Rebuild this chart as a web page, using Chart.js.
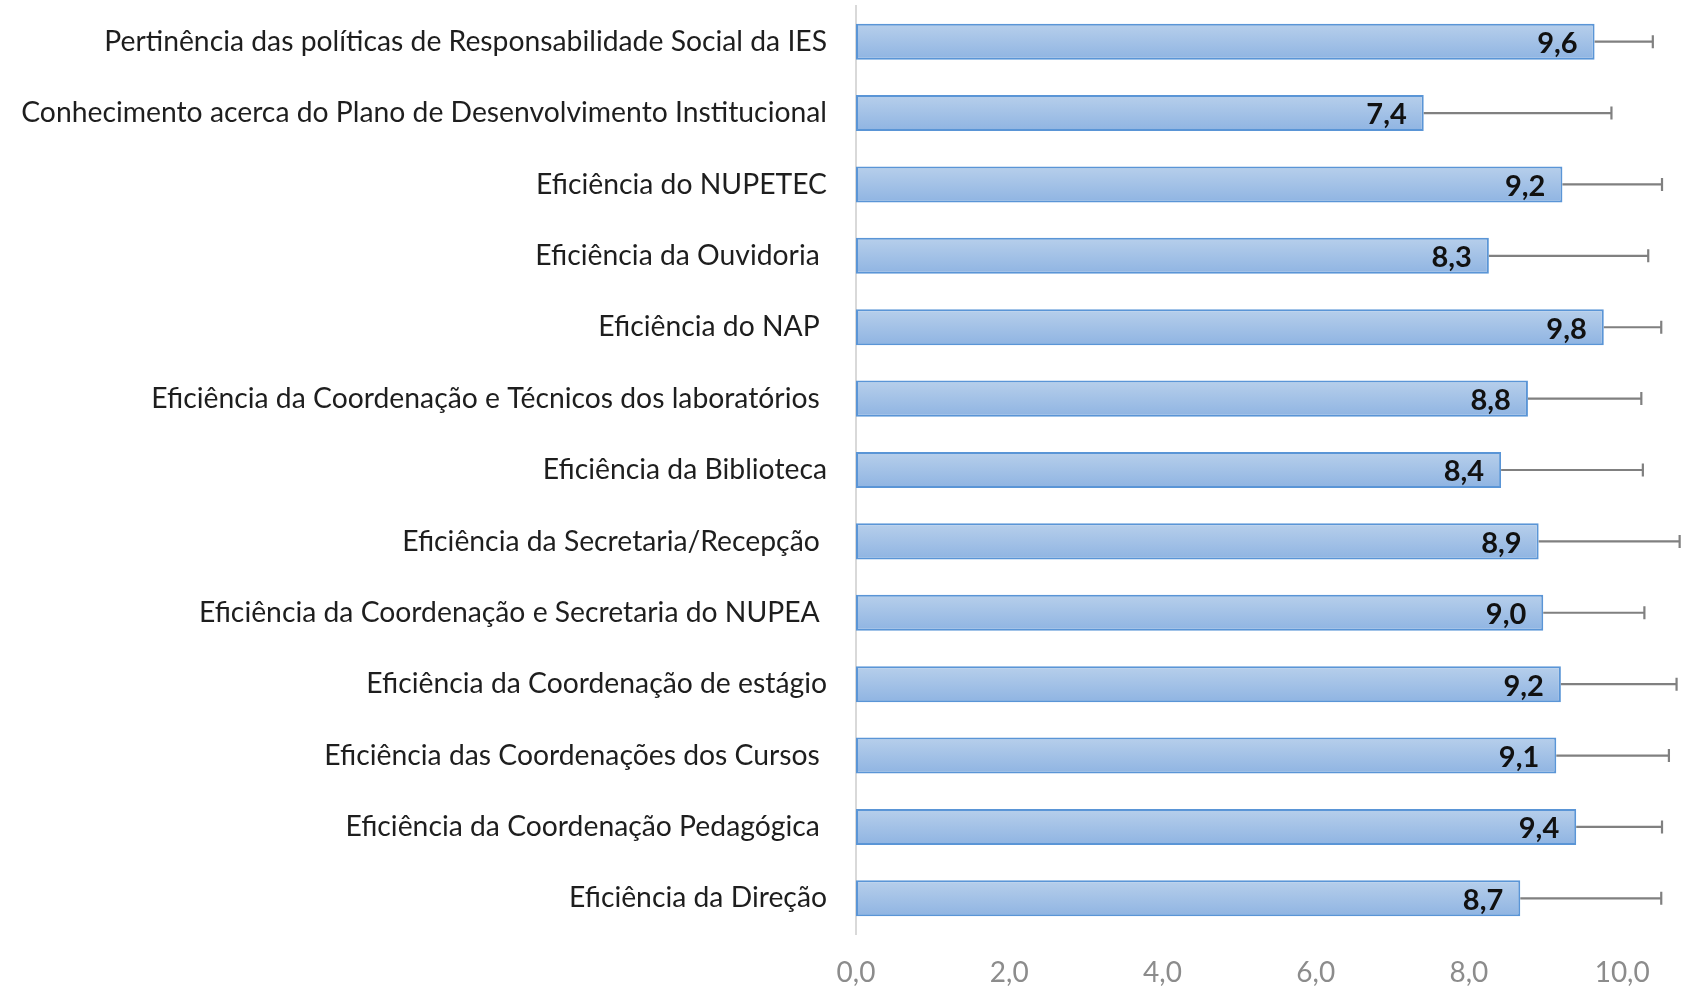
<!DOCTYPE html>
<html>
<head>
<meta charset="utf-8">
<script src="https://cdn.jsdelivr.net/npm/chart.js@4/dist/chart.umd.min.js"></script>
<style>
  html, body { margin: 0; padding: 0; background: #ffffff; }
  #wrap { width: 1685px; height: 987px; position: relative; }
</style>
</head>
<body>
<div id="wrap"><canvas id="c" width="1685" height="987"></canvas></div>
<script>
const categories = [
  "Pertinência das políticas de Responsabilidade Social da IES",
  "Conhecimento acerca do Plano de Desenvolvimento Institucional",
  "Eficiência do NUPETEC",
  "Eficiência da Ouvidoria ",
  "Eficiência do NAP ",
  "Eficiência da Coordenação e Técnicos dos laboratórios ",
  "Eficiência da Biblioteca",
  "Eficiência da Secretaria/Recepção ",
  "Eficiência da Coordenação e Secretaria do NUPEA ",
  "Eficiência da Coordenação de estágio",
  "Eficiência das Coordenações dos Cursos ",
  "Eficiência da Coordenação Pedagógica ",
  "Eficiência da Direção"
];
const means = [9.64, 7.41, 9.22, 8.26, 9.76, 8.77, 8.42, 8.91, 8.97, 9.20, 9.14, 9.40, 8.67];
const errors = [0.76, 2.45, 1.30, 2.08, 0.75, 1.48, 1.85, 1.84, 1.32, 1.51, 1.47, 1.12, 1.84];
const xTicks = [0, 2, 4, 6, 8, 10];

const FONT = "Lato, 'Open Sans', sans-serif";
const fmt = v => v.toFixed(1).replace('.', ',');
const BAR_PCT = 0.505;

function barFill(ctx) {
  const chart = ctx.chart;
  const ys = chart.scales && chart.scales.y;
  if (!ys || ys.top === undefined || ctx.dataIndex === undefined) return '#a3c1e6';
  const yc = ys.getPixelForValue(ctx.dataIndex);
  const band = (ys.bottom - ys.top) / categories.length;
  const h = band * BAR_PCT / 2;
  const g = chart.ctx.createLinearGradient(0, yc - h, 0, yc + h);
  g.addColorStop(0, '#b7cfeb');
  g.addColorStop(1, '#8fb4e2');
  return g;
}

const errorBarPlugin = {
  id: 'errorBars',
  afterDatasetsDraw(chart) {
    const meta = chart.getDatasetMeta(0);
    const xs = chart.scales.x;
    const c = chart.ctx;
    c.save();
    c.strokeStyle = '#808080';
    c.lineWidth = 2.2;
    meta.data.forEach((bar, i) => {
      const x0 = xs.getPixelForValue(means[i]);
      const x1 = xs.getPixelForValue(means[i] + errors[i]);
      const y = bar.y;
      c.beginPath();
      c.moveTo(x0, y);
      c.lineTo(x1, y);
      c.moveTo(x1, y - 6.5);
      c.lineTo(x1, y + 6.5);
      c.stroke();
    });
    c.restore();
  }
};

const valueLabelPlugin = {
  id: 'valueLabels',
  afterDatasetsDraw(chart) {
    const meta = chart.getDatasetMeta(0);
    const c = chart.ctx;
    c.save();
    c.fillStyle = '#111111';
    c.font = "bold 29px " + FONT;
    c.textAlign = 'right';
    c.textBaseline = 'middle';
    meta.data.forEach((bar, i) => {
      c.fillText(fmt(means[i]), bar.x - 17, bar.y + 2);
    });
    c.restore();
  }
};

new Chart(document.getElementById('c'), {
  type: 'bar',
  data: {
    labels: categories,
    datasets: [{
      data: means,
      backgroundColor: barFill,
      borderColor: '#5a95d6',
      borderWidth: 2,
      borderSkipped: false,
      barPercentage: BAR_PCT,
      categoryPercentage: 1.0
    }]
  },
  options: {
    indexAxis: 'y',
    responsive: false,
    animation: false,
    devicePixelRatio: 1,
    layout: { padding: { top: 6, right: 0, bottom: 0, left: 0 } },
    plugins: { legend: { display: false }, tooltip: { enabled: false } },
    scales: {
      y: {
        type: 'category',
        grid: { display: false, drawTicks: false },
        border: { display: true, color: '#d9d9d9', width: 2 },
        ticks: {
          font: { family: FONT, size: 28.3 },
          color: '#1e1e1e',
          padding: 29,
          autoSkip: false
        },
        afterFit(scale) {
          scale.width = 856;
          scale.paddingTop = 0;
          scale.paddingBottom = 0;
        }
      },
      x: {
        min: 0,
        max: 10.82,
        grid: { display: false, drawTicks: false },
        border: { display: false },
        ticks: {
          font: { family: FONT, size: 28 },
          color: '#8c8c8c',
          padding: 22,
          callback: v => fmt(v)
        },
        afterBuildTicks(scale) { scale.ticks = xTicks.map(v => ({ value: v })); },
        afterFit(scale) { scale.height = 53; }
      }
    }
  },
  plugins: [errorBarPlugin, valueLabelPlugin]
});
</script>
</body>
</html>
